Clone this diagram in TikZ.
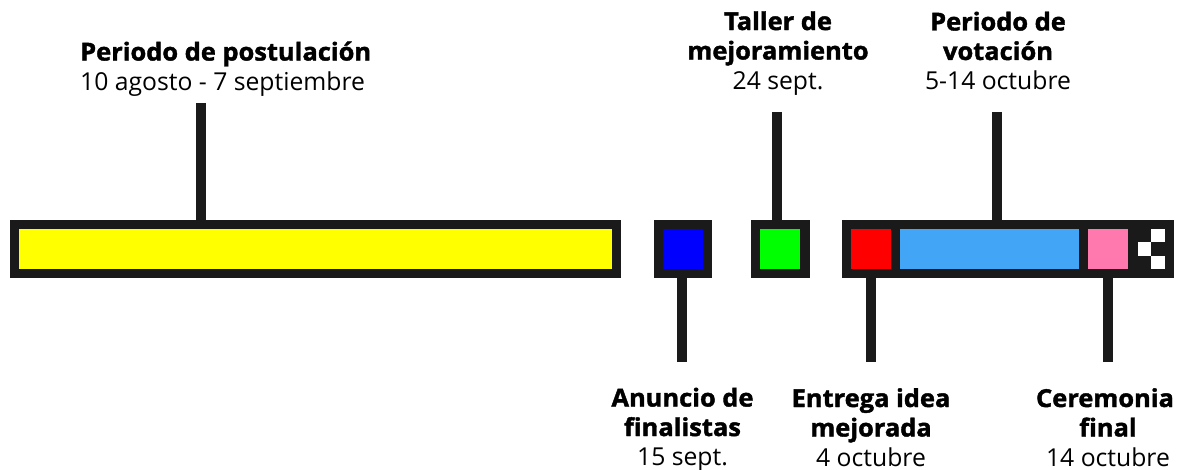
\documentclass[tikz,border=0pt]{standalone}
\usepackage{fontspec}
\setmainfont[BoldFeatures={FakeBold=1.6, FakeStretch=1.03}]{Open Sans}
\usepackage{xcolor}
\usetikzlibrary{positioning, calc}
\definecolor{barblack}{HTML}{1A1A1A}
\definecolor{barlemon}{HTML}{FFFF00}
\definecolor{skyblue}{HTML}{42A5F5}
\definecolor{rosepink}{HTML}{FF79AE}
\newcommand{\linestrut}{\rule[-5pt]{0pt}{25pt}}
\tikzstyle{segment} = [draw=barblack, rectangle, line width=9.2pt, minimum height=49.3pt, inner sep=0pt]
\tikzstyle{stem} = [draw=barblack, line width=10pt]
\tikzstyle{tag} = [align=center, inner sep=0pt, font=\fontsize{24.7}{29.5}\selectfont]
\tikzstyle{tile} = [fill=white, rectangle, minimum width=13.5pt, minimum height=13.5pt, inner sep=0pt]

\begin{document}
\begin{tikzpicture}[x=1pt, y=-1pt]
    \useasboundingbox (0,0) rectangle (1189,470);

    % Bar
    \node (postulacion) [segment, fill=barlemon, minimum width=601.8pt] at (315.5,249.25) {};
    \node (anuncio) [segment, fill=blue, minimum width=49.3pt] at (682.75,249.25) {};
    \node (taller) [segment, fill=green, minimum width=49.3pt] at (780.25,249.25) {};
    \node (meta) [rectangle, fill=barblack, minimum width=46pt, minimum height=58.5pt, inner sep=0pt] at (1151,249.25) {};
    \node (entrega) [segment, fill=red, minimum width=49.3pt] at (871,249.25) {};
    \node (votacion) [segment, fill=skyblue, minimum width=188pt] at (989.5,249.25) {};
    \node (ceremonia) [segment, fill=rosepink, minimum width=49.3pt] at (1108,249.25) {};

    % Finish flag
    \node (tileA) [tile] at (1158,235.75) {};
    \node (tileB) [tile] at (1144.5,249.25) {};
    \node (tileC) [tile] at (1158,262.75) {};

    % Labels
    \node (txtpostulacion) [tag, align=left, anchor=west] at (80,68.25) {\linestrut\textbf{Periodo de postulación}\\\linestrut 10 agosto - 7 septiembre};
    \node (txttaller) [tag] at (778,52.5) {\linestrut\textbf{Taller de}\\\textbf{mejoramiento}\\\linestrut 24 sept.};
    \node (txtvotacion) [tag] at (998,52.5) {\linestrut\textbf{Periodo de}\\\textbf{votación}\\\linestrut 5-14 octubre};
    \node (txtanuncio) [tag] at (682.5,429) {\linestrut\textbf{Anuncio de}\\\textbf{finalistas}\\\linestrut 15 sept.};
    \node (txtentrega) [tag] at (871,429) {\linestrut\textbf{Entrega idea}\\\textbf{mejorada}\\\linestrut 4 octubre};
    \node (txtceremonia) [tag] at (1108,429) {\linestrut\textbf{Ceremonia}\rule{6pt}{0pt}\\\textbf{final}\\\linestrut 14 octubre};

    % Stem ends
    \coordinate (endpostulacion) at (201,103);
    \coordinate (endtaller) at (777,112);
    \coordinate (endvotacion) at (997,112);
    \coordinate (endanuncio) at (682,362);
    \coordinate (endentrega) at (871,362);
    \coordinate (endceremonia) at (1108,362);

    % Stems
    \draw [stem] (endpostulacion) -- (endpostulacion |- postulacion.north);
    \draw [stem] (endtaller) -- (endtaller |- taller.north);
    \draw [stem] (endvotacion) -- (endvotacion |- votacion.north);
    \draw [stem] (endanuncio) -- (endanuncio |- anuncio.south);
    \draw [stem] (endentrega) -- (endentrega |- entrega.south);
    \draw [stem] (endceremonia) -- (endceremonia |- ceremonia.south);
\end{tikzpicture}
\end{document}
